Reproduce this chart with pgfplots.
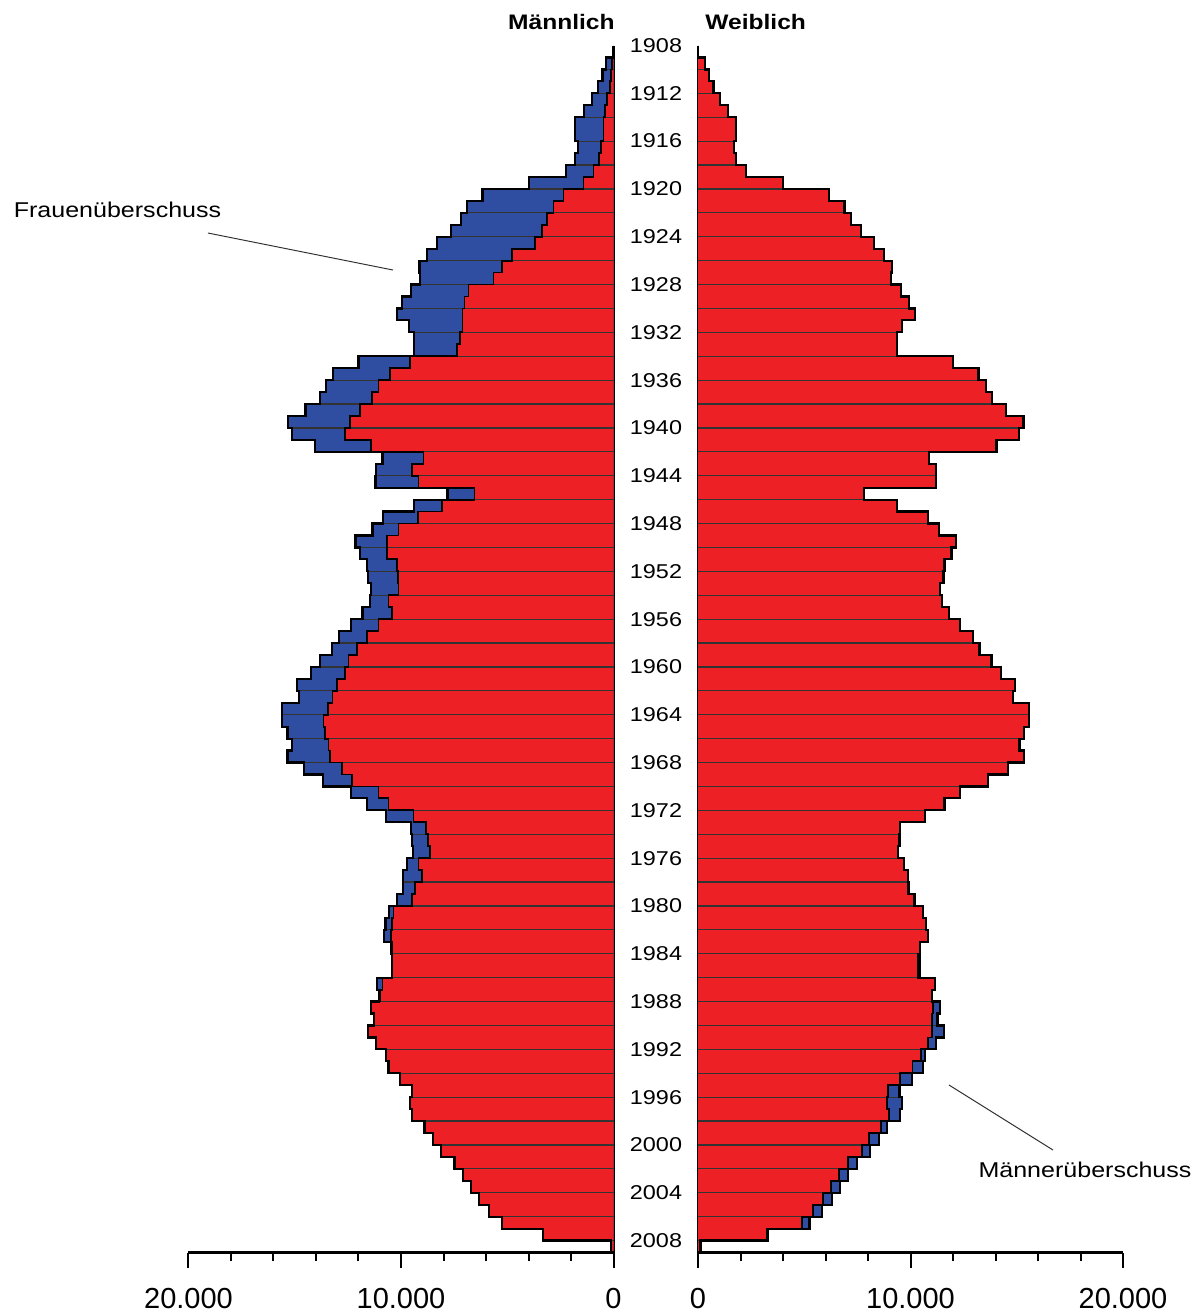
\documentclass[border=0pt]{standalone}
\usepackage{fontspec}
\setmainfont{Liberation Sans}
\newfontfamily\wide{Liberation Sans}[FakeStretch=1.17]
\usepackage{pgfplots}
\pgfplotsset{compat=1.18}
\usepackage{pgfplotstable}
\definecolor{pred}{RGB}{236,32,37}
\definecolor{pblue}{RGB}{47,78,162}

\pgfplotstableread{
year M F
1908 0 0
1909 80 345
1910 100 520
1911 160 730
1912 310 1030
1913 390 1395
1914 470 1795
1915 470 1795
1916 580 1680
1917 675 1795
1918 940 2240
1919 1410 3990
1920 2350 6165
1921 2820 6890
1922 3140 7190
1923 3370 7655
1924 3690 8295
1925 4780 8770
1926 5255 9130
1927 5647 9090
1928 6823 9540
1929 7012 9945
1930 7106 10200
1931 7106 9615
1932 7216 9380
1933 7372 9380
1934 9568 12000
1935 10510 13200
1936 11059 13540
1937 11373 13830
1938 11921 14490
1939 12392 15320
1940 12627 15120
1941 11400 14050
1942 8941 10870
1943 9490 11185
1944 9176 11200
1945 6541 7810
1946 8078 9380
1947 9208 10830
1948 10118 11340
1949 10667 12140
1950 10667 11930
1951 10196 11600
1952 10149 11550
1953 10118 11400
1954 10588 11475
1955 10431 11810
1956 11059 12345
1957 11608 12925
1958 12078 13247
1959 12470 13810
1960 12627 14243
1961 13020 14910
1962 13223 14808
1963 13443 15592
1964 13647 15592
1965 13568 15341
1966 13412 15129
1967 13333 15341
1968 12784 14580
1969 12314 13655
1970 11059 12345
1971 10588 11600
1972 9412 10690
1973 8831 9513
1974 8737 9482
1975 8627 9420
1976 9176 9700
1977 9020 9890
1978 9333 9910
1979 9490 10190
1980 10353 10570
1981 10431 10730
1982 10463 10815
1983 10450 10420
1984 10430 10370
1985 10430 10370
1986 10870 11140
1987 10980 11020
1988 11400 11059
1989 11270 11028
1990 11570 11028
1991 11190 10823
1992 10700 10510
1993 10590 10090
1994 10060 9506
1995 9480 8957
1996 9585 8910
1997 9500 9004
1998 8895 8612
1999 8500 8063
2000 8110 7702
2001 7480 7074
2002 7065 6651
2003 6690 6243
2004 6320 5867
2005 5850 5396
2006 5245 4878
2007 3300 3230
2008 120 120
2009 0 0
}\pyr

\pgfplotsset{
  pyr/.style={
    scale only axis, width=212.5pt, height=603.5pt,
    ymin=-101, ymax=0,
    axis x line*=bottom,
    scaled ticks=false,
    tick align=outside, major tick length=7.5pt, minor tick length=4pt,
    tick style={black, line width=1pt},
    y tick style={draw=none},
    axis line style={black, line width=1.3pt},
    clip=false,
    /pgf/number format/assume math mode=true,
    /pgf/number format/1000 sep={},
    xticklabel style={font=\fontsize{14.5}{16}\selectfont, anchor=base, yshift=-20.5pt},
  },
}

\begin{document}
\begin{tikzpicture}[x=1pt,y=1pt]
\path[use as bounding box] (0,0) rectangle (601,-657);

% left half: men (values drawn to the left); y = 1908 - year
\begin{axis}[pyr, at={(306.75pt,-22.75pt)}, anchor=origin,
  xmin=-20000, xmax=0,
  xtick={-20000,-10000,0},
  xticklabels={20.000,10.000,0},
  minor xtick={-18000,-16000,-14000,-12000,-8000,-6000,-4000,-2000},
  axis y line*=right,
  ytick={-100,-96,...,0},
  yticklabels={2008,2004,2000,1996,1992,1988,1984,1980,1976,1972,1968,1964,1960,1956,1952,1948,1944,1940,1936,1932,1928,1924,1920,1916,1912,1908},
  yticklabel style={font=\wide\fontsize{10}{12}\selectfont, anchor=center, xshift=13.75pt},
]
\addplot[xbar interval, fill=pblue, draw=none] table[x expr={-max(\thisrow{M},\thisrow{F})}, y expr={1908-\thisrow{year}}]{\pyr};
\addplot[xbar interval, fill=pred, draw=none] table[x expr={-\thisrow{M}}, y expr={1908-\thisrow{year}}]{\pyr};
\addplot[xcomb, black!80, line width=0.6pt, each nth point=2, filter discard warning=false, no marks] table[x expr={-max(\thisrow{M},\thisrow{F})}, y expr={1908-\thisrow{year}}]{\pyr};
\addplot[const plot mark right, black, line width=0.9pt, no marks] table[x expr={-\thisrow{M}}, y expr={1908-\thisrow{year}}]{\pyr};
\addplot[const plot mark right, black, line width=1.1pt, no marks] table[x expr={-max(\thisrow{M},\thisrow{F})}, y expr={1908-\thisrow{year}}]{\pyr};
\end{axis}

% right half: women
\begin{axis}[pyr, at={(349pt,-22.75pt)}, anchor=origin,
  xmin=0, xmax=20000,
  xtick={0,10000,20000},
  xticklabels={0,10.000,20.000},
  minor xtick={2000,4000,6000,8000,12000,14000,16000,18000},
  axis y line*=left,
  ytick=\empty,
]
\addplot[xbar interval, fill=pblue, draw=none] table[x expr={max(\thisrow{M},\thisrow{F})}, y expr={1908-\thisrow{year}}]{\pyr};
\addplot[xbar interval, fill=pred, draw=none] table[x=F, y expr={1908-\thisrow{year}}]{\pyr};
\addplot[xcomb, black!80, line width=0.6pt, each nth point=2, filter discard warning=false, no marks] table[x expr={max(\thisrow{M},\thisrow{F})}, y expr={1908-\thisrow{year}}]{\pyr};
\addplot[const plot mark right, black, line width=0.9pt, no marks] table[x=F, y expr={1908-\thisrow{year}}]{\pyr};
\addplot[const plot mark right, black, line width=1.1pt, no marks] table[x expr={max(\thisrow{M},\thisrow{F})}, y expr={1908-\thisrow{year}}]{\pyr};
\end{axis}

\node[font=\wide\bfseries\fontsize{10.5}{12}\selectfont, anchor=east, inner sep=0pt] at (307.5,-11) {Männlich};
\node[font=\wide\bfseries\fontsize{10.5}{12}\selectfont, anchor=west, inner sep=0pt] at (352.5,-11) {Weiblich};
\node[font=\wide\fontsize{10.7}{12}\selectfont, inner sep=0pt] at (58.75,-105) {Frauenüberschuss};
\node[font=\wide\fontsize{10.7}{12}\selectfont, inner sep=0pt] at (542.5,-585) {Männerüberschuss};
\draw[black!80, line width=0.5pt] (104,-116.5) -- (196.5,-135);
\draw[black!80, line width=0.5pt] (474.5,-542.5) -- (526.5,-575);
\end{tikzpicture}
\end{document}
